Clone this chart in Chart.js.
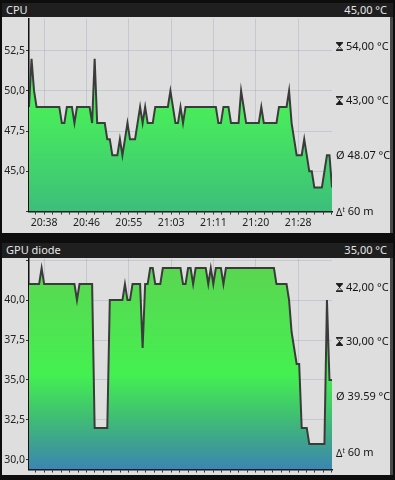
<!DOCTYPE html>
<html>
<head>
<meta charset="utf-8">
<script src="https://cdn.jsdelivr.net/npm/chart.js@4"></script>
<style>
  html, body { margin: 0; padding: 0; width: 395px; height: 480px; overflow: hidden; background: #0d0d0d; font-family: "Noto Sans", "Open Sans", sans-serif; }
  .bar { position: absolute; left: 2px; width: 391px; height: 14px; background: #1f1f1f; color: #e6e6e6; font-size: 11px; line-height: 14px; }
  .bar .name { position: absolute; left: 4px; }
  .bar .now { position: absolute; right: 6px; }
  .panel { position: absolute; left: 2px; width: 388px; background: #dedede; overflow: hidden; }
  .edge { position: absolute; left: 390px; width: 3px; background: #4a4a4a; }
  .panel canvas { position: absolute; left: 0; top: 0; }
  .stat { position: absolute; left: 336px; height: 16px; line-height: 16px; font-size: 11px; color: #141414; white-space: nowrap; }
  .stat svg { vertical-align: -1px; margin-right: 3px; }
  .dt { font-size: 10px; margin-right: 3px; }
  .dt sup { font-size: 6.5px; }
</style>
</head>
<body>
<div class="bar" style="top:3px"><span class="name">CPU</span><span class="now" id="cpuNow"></span></div>
<div class="panel" id="cpuPanel" style="top:17px;height:216px"><canvas id="cpu" width="388" height="216"></canvas></div>
<div class="edge" style="top:17px;height:216px"></div>

<div class="bar" style="top:243px;height:15px"><span class="name">GPU diode</span><span class="now" id="gpuNow"></span></div>
<div class="panel" id="gpuPanel" style="top:258px;height:217px"><canvas id="gpu" width="388" height="233"></canvas></div>
<div class="edge" style="top:258px;height:217px"></div>

<script>
// one sample every 30 s, 60 minutes
const sampleMinutes = 0.5;

const cpuValues = [
  49, 52, 50, 49, 49, 49, 49, 49, 49, 49, 49, 49, 49, 48, 48, 49, 49, 49, 48, 49,
  49, 49, 49, 49, 49, 48, 52, 48, 48, 48, 48, 47, 47, 46, 46, 46, 47, 46, 47, 48,
  47, 47, 47, 48, 49, 48, 49, 48, 48, 48, 49, 49, 49, 49, 49, 49, 50, 49, 48, 48,
  49, 48, 49, 49, 49, 49, 49, 49, 49, 49, 49, 49, 49, 49, 49, 48, 48, 49, 49, 49,
  48, 48, 48, 48, 50, 49, 48, 48, 48, 48, 48, 48, 49, 48, 48, 48, 48, 48, 48, 49,
  49, 49, 49, 50, 48, 47, 46, 46, 46, 47, 46, 45, 45, 44, 44, 44, 44, 45, 46, 46,
  44
];

const gpuValues = [
  41, 41, 41, 41, 41, 42, 41, 41, 41, 41, 41, 41, 41, 41, 41, 41, 41, 41, 41, 40,
  41, 41, 41, 41, 41, 41, 32, 32, 32, 32, 32, 32, 40, 40, 40, 40, 40, 40, 41, 40,
  40, 41, 41, 41, 41, 37, 41, 41, 42, 42, 41, 41, 41, 42, 42, 42, 42, 42, 42, 42,
  42, 41, 41, 42, 42, 41, 42, 42, 42, 42, 42, 41, 42, 41, 42, 42, 42, 41, 42, 42,
  42, 42, 42, 42, 42, 42, 42, 42, 42, 42, 42, 42, 42, 42, 42, 42, 42, 42, 41, 41,
  41, 41, 41, 40, 38, 37, 36, 36, 32, 32, 32, 31, 31, 31, 31, 31, 31, 31, 40, 35,
  35
];

const xTickLabels = ['20:38', '20:46', '20:55', '21:03', '21:11', '21:20', '21:28'];
const xFirstTick = 3;      // minutes after start
const xTickStep = 8.38;
const xMinorPerMajor = 5;

const cpuYTicks = [42.5, 45, 47.5, 50, 52.5];
const gpuYTicks = [30, 32.5, 35, 37.5, 40, 42.5];
const cpuRange = [42.5, 54.5];
const gpuRange = [29.4, 42.6];

const cpuStats = { now: '45,00 °C', max: '54,00 °C', min: '43,00 °C', avg: '48.07 °C', span: '60 m' };
const gpuStats = { now: '35,00 °C', max: '42,00 °C', min: '30,00 °C', avg: '39.59 °C', span: '60 m' };

const cpuStops = [[0, '#4ef25a'], [0.5, '#48ea5c'], [0.75, '#42d56c'], [1, '#3cbe7a']];
const gpuStops = [[0, '#5cd450'], [0.25, '#52e052'], [0.55, '#44f050'], [0.72, '#40c66c'], [0.88, '#3ea090'], [1, '#3a86b2']];

const glass = (topFilled) => `<svg width="7" height="9" viewBox="0 0 8 10">
  <rect x="0" y="0" width="8" height="1.4" fill="#111"/><rect x="0" y="8.6" width="8" height="1.4" fill="#111"/>
  <path d="M1 1.4 L7 1.4 L4 5 Z" fill="${topFilled ? '#111' : 'none'}" stroke="#111" stroke-width="0.8"/>
  <path d="M4 5 L7 8.6 L1 8.6 Z" fill="${topFilled ? 'none' : '#111'}" stroke="#111" stroke-width="0.8"/></svg>`;

function addStats(top, s) {
  const rows = [
    [glass(true), s.max],
    [glass(false), s.min],
    ['<span style="margin-right:3px">Ø</span>', s.avg],
    ['<span class="dt">Δ<sup>t</sup></span>', s.span]
  ];
  rows.forEach((r, k) => {
    const d = document.createElement('div');
    d.className = 'stat';
    d.style.top = (top + 28.7 + k * 54.5 - 8) + 'px';
    d.innerHTML = r[0] + r[1];
    document.body.appendChild(d);
  });
}

const fmt = v => v.toFixed(1).replace('.', ',');

function makeChart(id, values, yTicks, range, stops) {
  const ctx = document.getElementById(id).getContext('2d');
  return new Chart(ctx, {
    type: 'line',
    data: {
      datasets: [{
        data: values.map((v, i) => ({ x: i * sampleMinutes, y: v })),
        borderColor: '#3b3b3b',
        borderWidth: 2,
        pointRadius: 0,
        tension: 0,
        fill: 'start',
        backgroundColor: (c) => {
          const a = c.chart.chartArea;
          if (!a) return '#45f050';
          const g = c.chart.ctx.createLinearGradient(0, a.top, 0, a.bottom);
          stops.forEach(s => g.addColorStop(s[0], s[1]));
          return g;
        }
      }]
    },
    options: {
      responsive: false,
      animation: false,
      layout: { padding: { top: id === 'cpu' ? 1.5 : 0.5, right: 58, left: 0, bottom: 0 } },
      plugins: { legend: { display: false }, tooltip: { enabled: false } },
      scales: {
        x: {
          type: 'linear',
          min: 0,
          max: (values.length - 1) * sampleMinutes,
          z: 1,
          afterFit: s => { s.height = 21.5; s.paddingLeft = 0; s.paddingRight = 0; },
          afterBuildTicks: s => {
            const t = [];
            const minor = xTickStep / xMinorPerMajor;
            for (let k = -xMinorPerMajor; k <= xTickLabels.length * xMinorPerMajor; k++) {
              const v = xFirstTick + k * minor;
              if (v < s.min || v > s.max) continue;
              t.push({ value: v, major: k % xMinorPerMajor === 0 });
            }
            s.ticks = t;
          },
          ticks: {
            autoSkip: false,
            maxRotation: 0,
            padding: 2,
            color: '#222',
            font: { size: 10.5, family: '"Noto Sans", sans-serif' },
            callback: function (v) {
              const k = Math.round((v - xFirstTick) / xTickStep * xMinorPerMajor);
              if (k % xMinorPerMajor !== 0) return '';
              return xTickLabels[k / xMinorPerMajor] || '';
            }
          },
          grid: {
            color: c => (c.tick && c.tick.major) ? 'rgba(120,120,170,0.22)' : 'rgba(0,0,0,0)',
            tickColor: '#333',
            tickLength: 3,
            drawTicks: true
          },
          border: { color: '#111', width: 1.5 }
        },
        y: {
          min: range[0],
          max: range[1],
          z: 1,
          afterFit: s => { s.width = 27; s.paddingTop = 0; s.paddingBottom = 0; },
          afterBuildTicks: s => { s.ticks = yTicks.map(v => ({ value: v })); },
          ticks: {
            padding: 1,
            color: '#222',
            font: { size: 10.5, family: '"Noto Sans", sans-serif' },
            callback: v => (v === range[0] || v === yTicks[yTicks.length - 1] && v >= range[1] - 0.2) ? '' : fmt(v)
          },
          grid: {
            color: 'rgba(120,120,170,0.22)',
            tickColor: '#333',
            tickLength: 3
          },
          border: { color: '#111', width: 1.5 }
        }
      }
    }
  });
}

document.getElementById('cpuNow').textContent = cpuStats.now;
document.getElementById('gpuNow').textContent = gpuStats.now;
makeChart('cpu', cpuValues, cpuYTicks, cpuRange, cpuStops);
makeChart('gpu', gpuValues, gpuYTicks, gpuRange, gpuStops);
addStats(17, cpuStats);
addStats(258, gpuStats);
</script>
</body>
</html>
